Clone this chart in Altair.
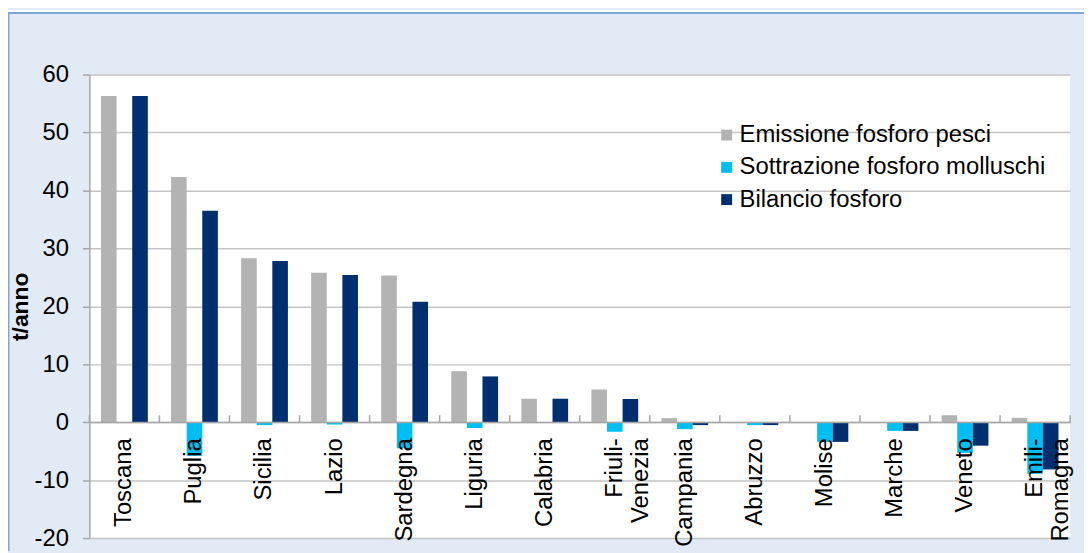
import altair as alt
import pandas as pd

regioni = ["Toscana", "Puglia", "Sicilia", "Lazio", "Sardegna", "Liguria", "Calabria",
           "Friuli-|Venezia", "Campania", "Abruzzo", "Molise", "Marche", "Veneto", "Emili-|Romagna"]
serie = ["Emissione fosforo pesci", "Sottrazione fosforo molluschi", "Bilancio fosforo"]
emissione = [56.3, 42.3, 28.3, 25.8, 25.3, 8.8, 4.05, 5.65, 0.7, 0.0, 0.0, 0.0, 1.2, 0.75]
sottrazione = [0.0, -5.8, -0.5, -0.4, -4.5, -1.0, -0.05, -1.65, -1.2, -0.5, -3.4, -1.5, -5.3, -8.9]
bilancio = [56.3, 36.5, 27.8, 25.4, 20.8, 7.9, 4.05, 4.0, -0.5, -0.5, -3.4, -1.5, -4.05, -8.15]
y_ticks = [-20, -10, 0, 10, 20, 30, 40, 50, 60]
colori = ["#b3b3b3", "#00bdf2", "#002f6f"]

rows = []
for s, vals in zip(serie, [emissione, sottrazione, bilancio]):
    for r, v in zip(regioni, vals):
        rows.append({"Regione": r, "Serie": s, "Valore": v})
df = pd.DataFrame(rows)
df_reg = pd.DataFrame({"Regione": regioni})
one = pd.DataFrame({"a": [0]})

FONT = "Liberation Sans"
GRAY = "#a6a6a6"

xscale = alt.Scale(paddingInner=0, paddingOuter=0)
yscale = alt.Scale(domain=[-20, 60], nice=False)

bars = alt.Chart(df).mark_bar().encode(
    x=alt.X("Regione:N", sort=regioni, scale=xscale,
            axis=alt.Axis(title=None, offset=-117, labelAngle=270, labelAlign="right",
                          labelBaseline="middle", labelPadding=16, ticks=False,
                          domainColor=GRAY, domainWidth=1.5, labelFontSize=24,
                          labelFont=FONT, labelColor="black", labelOverlap=False,
                          labelExpr="split(datum.label, '|')", grid=False, zindex=1,
                          labelLimit=0)),
    xOffset=alt.XOffset("Serie:N", sort=serie,
                        scale=alt.Scale(domain=serie, paddingInner=0, paddingOuter=0.745)),
    y=alt.Y("Valore:Q", scale=yscale, title="t/anno",
            axis=alt.Axis(values=y_ticks, grid=True, gridColor="#c4c4c4", gridWidth=1.5,
                          domainColor=GRAY, domainWidth=1.5, tickColor=GRAY, tickSize=7,
                          tickWidth=1.5, labelFontSize=24, labelFont=FONT, labelPadding=14,
                          labelColor="black", labelExpr="'' + datum.value",
                          titleFontSize=23, titleFont=FONT,
                          titleFontWeight="bold", titlePadding=2, titleColor="black")),
    color=alt.Color("Serie:N", scale=alt.Scale(domain=serie, range=colori),
                    legend=alt.Legend(title=None, orient="none", legendX=630, legendY=49,
                                      symbolType="square", symbolSize=121, labelFontSize=24,
                                      labelFont=FONT, labelColor="black", rowPadding=8.5,
                                      labelOffset=1, padding=0, symbolStrokeWidth=0,
                                      labelLimit=0)),
)

ticks = alt.Chart(df_reg).mark_rule(color=GRAY, strokeWidth=1.5).encode(
    x=alt.X("Regione:N", sort=regioni, bandPosition=0),
    y=alt.datum(0), y2=alt.datum(1.2),
)
tick_end = alt.Chart(one).mark_rule(color=GRAY, strokeWidth=1.5).encode(
    x=alt.value(988), y=alt.datum(0), y2=alt.datum(1.2),
)

white_top = alt.Chart(one).mark_rect(color="white").encode(
    x=alt.value(-82), x2=alt.value(1002), y=alt.value(-65), y2=alt.value(-63))
border_top = alt.Chart(one).mark_rule(color="#7fa6d9", strokeWidth=2).encode(
    x=alt.value(-82), x2=alt.value(1002), y=alt.value(-62))
border_left = alt.Chart(one).mark_rule(color="#7fa6d9", strokeWidth=2).encode(
    x=alt.value(-81.5), y=alt.value(-63), y2=alt.value(480))

chart = alt.layer(bars, ticks, tick_end, white_top, border_top, border_left).properties(
    width=988, height=467,
    autosize=alt.AutoSizeParams(type="none"),
    padding={"left": 82, "top": 65, "right": 14, "bottom": 13},
    background="#e2eaf5",
).configure_view(strokeWidth=0, fill="white")

chart.save("out.html", embed_options={"renderer": "svg", "actions": False})
